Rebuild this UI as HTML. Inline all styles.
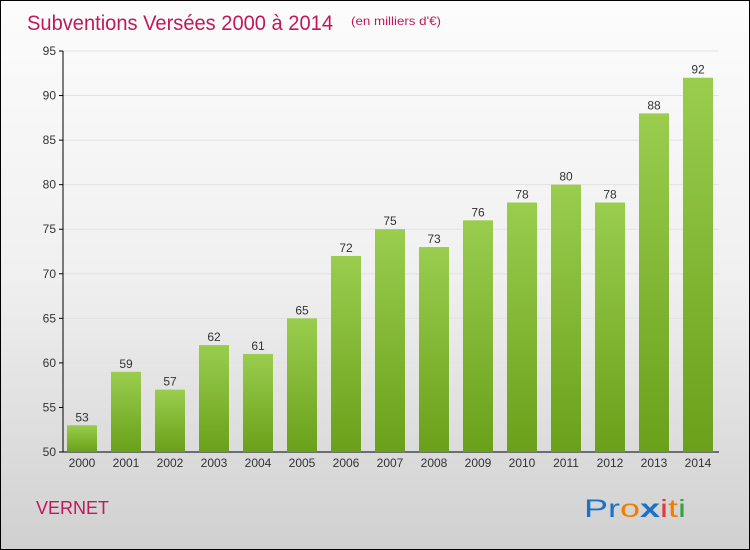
<!DOCTYPE html>
<html><head><meta charset="utf-8"><style>
body{margin:0}
#c{position:relative;width:748px;height:548px;border:1px solid #000;background:linear-gradient(#fcfcfc 0%,#f0f0f0 50%,#d0d0d0 100%);font-family:"Liberation Sans",sans-serif;overflow:hidden}
</style></head><body>
<div id="c">
<svg width="748" height="548">
<defs><linearGradient id="g" x1="0" y1="0" x2="0" y2="1"><stop offset="0" stop-color="#9acd4e"/><stop offset="1" stop-color="#6aa01a"/></linearGradient></defs>
<text x="26" y="29" font-size="21" fill="#c2185b" textLength="306" lengthAdjust="spacingAndGlyphs">Subventions Versées 2000 à 2014</text>
<text x="350" y="24" font-size="12" fill="#c2185b" textLength="90" lengthAdjust="spacingAndGlyphs">(en milliers d'€)</text>
<g id="grid"></g><g id="bars"></g>
<text x="35" y="513" font-size="18" fill="#c2185b">VERNET</text>
<g font-size="25">
<text x="583" y="516" textLength="102" lengthAdjust="spacingAndGlyphs"><tspan fill="#1a73c8">Pr</tspan><tspan fill="#f07f00">o</tspan><tspan fill="#1a73c8" font-weight="bold">x</tspan><tspan fill="#e53935">i</tspan><tspan fill="#f07f00">t</tspan><tspan fill="#3aa23a">i</tspan></text>
</g>
</svg>
</div>
<script>
const categories=["2000","2001","2002","2003","2004","2005","2006","2007","2008","2009","2010","2011","2012","2013","2014"];
const values=[53,59,57,62,61,65,72,75,73,76,78,80,78,88,92];
const yTicks=[50,55,60,65,70,75,80,85,90,95];
const NS="http://www.w3.org/2000/svg";
const y=v=>451-(v-50)*(401/45);
const x=i=>81+i*44;
function mk(t,a,p){const e=document.createElementNS(NS,t);for(const k in a)e.setAttribute(k,a[k]);p.appendChild(e);return e;}
const grid=document.getElementById('grid'),bars=document.getElementById('bars');
yTicks.forEach(v=>{
 const l=mk('line',{x1:62,x2:718,y1:y(v),y2:y(v),stroke:'#e2e2e2'},grid);
 
 
 const tk=mk('line',{x1:58,x2:62,y1:y(v),y2:y(v),stroke:'#000'},grid);
 
 
 const t=mk('text',{x:55,y:y(v)+4,'text-anchor':'end','font-size':12,fill:'#333'},grid);
 t.textContent=v;
 
 
});
const ax=mk('line',{x1:62,x2:62,y1:50,y2:451,stroke:'#000'},grid);


const bx=mk('line',{x1:62,x2:718,y1:451,y2:451,stroke:'#000'},grid);


categories.forEach((c,i)=>{
 const r=mk('rect',{x:x(i)-15,y:y(values[i]),width:30,height:451-y(values[i]),fill:'url(#g)'},bars);
 
 
 const v=mk('text',{x:x(i),y:y(values[i])-4,'text-anchor':'middle','font-size':12,fill:'#333'},bars);
 v.textContent=values[i];
 
 
 const t=mk('text',{x:x(i),y:466,'text-anchor':'middle','font-size':12,fill:'#333'},bars);
 t.textContent=c;
 
 
});
</script>
</body></html>
